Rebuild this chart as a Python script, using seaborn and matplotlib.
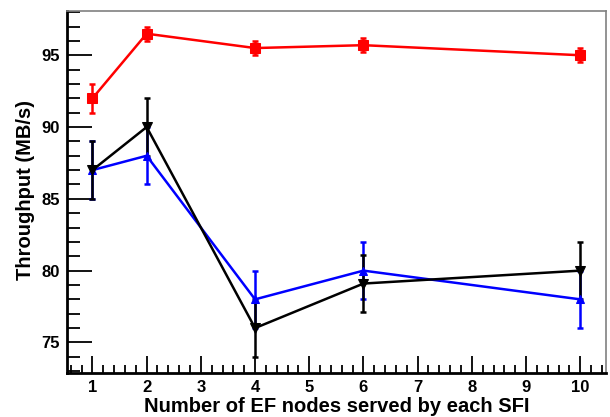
import matplotlib
matplotlib.use("Agg")
import matplotlib.pyplot as plt
import seaborn as sns
import pandas as pd
import numpy as np
from matplotlib.ticker import MultipleLocator

sns.set_theme(style="white")
plt.rcParams['font.family'] = ['Liberation Sans', 'DejaVu Sans']
plt.rcParams['font.weight'] = 'bold'
plt.rcParams['text.color'] = 'black'
plt.rcParams['xtick.color'] = 'black'
plt.rcParams['ytick.color'] = 'black'
plt.rcParams['axes.labelcolor'] = 'black'

x_nodes = [1, 2, 4, 6, 10]
red_vals = [92.0, 96.5, 95.5, 95.7, 95.0]
red_err = [1.0, 0.5, 0.5, 0.5, 0.5]
black_vals = [87.0, 90.0, 76.0, 79.1, 80.0]
black_err = [2.0, 2.0, 2.0, 2.0, 2.0]
blue_vals = [87.0, 88.0, 78.0, 80.0, 78.0]
blue_err = [2.0, 2.0, 2.0, 2.0, 2.0]

colors = {"red": "#ff0000", "black": "#000000", "blue": "#0000ff"}
markers = {"red": "s", "black": "v", "blue": "^"}
msizes = {"red": 7, "black": 7, "blue": 6}

df = pd.DataFrame({
    "x": x_nodes * 3,
    "y": red_vals + black_vals + blue_vals,
    "err": red_err + black_err + blue_err,
    "series": ["red"] * 5 + ["black"] * 5 + ["blue"] * 5,
})

fig = plt.figure(figsize=(6.1, 4.17), dpi=100)
ax = fig.add_axes([0.1098, 0.1048, 0.8832, 0.8688])

for s in ["red", "blue", "black"]:
    sub = df[df.series == s]
    ax.errorbar(sub.x, sub.y, yerr=sub.err, fmt="none", ecolor=colors[s],
                elinewidth=1.8, capsize=2.2, capthick=1.8, zorder=2)
    sns.lineplot(data=sub, x="x", y="y", color=colors[s], marker=markers[s],
                 markersize=msizes[s], markeredgecolor=colors[s], linewidth=1.8,
                 ax=ax, legend=False, zorder=3)

ax.set_xlim(0.53, 10.47)
ax.set_ylim(72.85, 98.08)
ax.xaxis.set_major_locator(MultipleLocator(1))
ax.xaxis.set_minor_locator(MultipleLocator(0.2))
ax.yaxis.set_major_locator(MultipleLocator(5))
ax.yaxis.set_minor_locator(MultipleLocator(1))
ax.set_xticks(range(1, 11))
ax.set_yticks([75, 80, 85, 90, 95])
ax.tick_params(axis="x", which="major", direction="in", length=12, width=1.3,
               labelsize=12, pad=5, bottom=True, top=False, colors="black")
ax.tick_params(axis="x", which="minor", direction="in", length=6, width=1.3,
               bottom=True, top=False, colors="black")
ax.tick_params(axis="y", which="major", direction="in", length=18, width=1.3,
               labelsize=12, pad=5, left=True, right=False, colors="black")
ax.tick_params(axis="y", which="minor", direction="in", length=9, width=1.3,
               left=True, right=False, colors="black")
for lab in ax.get_xticklabels() + ax.get_yticklabels():
    lab.set_fontweight("bold")
    lab.set_color("black")

ax.spines["left"].set_color("black")
ax.spines["left"].set_linewidth(2)
ax.spines["bottom"].set_color("black")
ax.spines["bottom"].set_linewidth(2)
ax.spines["top"].set_color("#808080")
ax.spines["top"].set_linewidth(1.2)
ax.spines["right"].set_color("#808080")
ax.spines["right"].set_linewidth(1.2)

ax.set_xlabel("")
ax.set_ylabel("")
fig.text(336.5 / 610, 1 - 407 / 417, "Number of EF nodes served by each SFI",
         ha="center", va="center", fontsize=14.5, fontweight="bold", color="black")
fig.text(26 / 610, 1 - 190.5 / 417, "Throughput (MB/s)", rotation=90,
         ha="center", va="center", fontsize=14.5, fontweight="bold", color="black")

fig.savefig("out.png", dpi=100)
